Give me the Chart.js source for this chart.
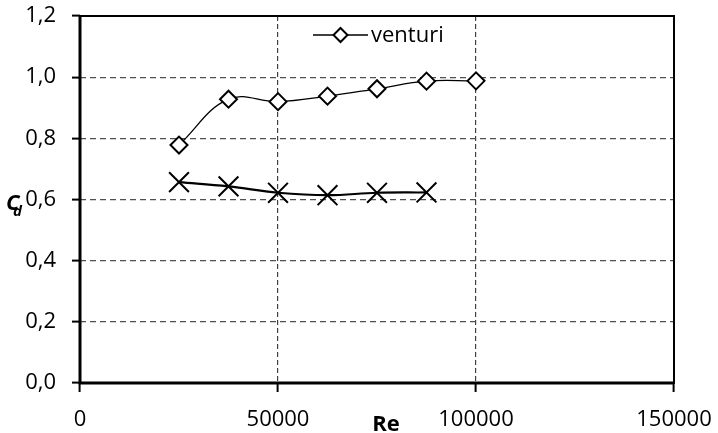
<!DOCTYPE html>
<html>
<head>
<meta charset="utf-8">
<style>
  html, body { margin: 0; padding: 0; background: #fff; }
  #wrap { width: 718px; height: 433px; }
</style>
</head>
<body>
<div id="wrap"><canvas id="cd"></canvas></div>
<script src="https://cdn.jsdelivr.net/npm/chart.js"></script>
<script>
// Re values and discharge coefficients
const reVenturi = [25000, 37500, 50000, 62500, 75000, 87500, 100000];
const cdVenturi = [0.778, 0.928, 0.92, 0.938, 0.962, 0.987, 0.988];
const reOrifice = [25000, 37500, 50000, 62500, 75000, 87500];
const cdOrifice = [0.657, 0.643, 0.622, 0.614, 0.622, 0.623];
const xTicks = [0, 50000, 100000, 150000];
const yTicks = [0, 0.2, 0.4, 0.6, 0.8, 1.0, 1.2];

const FONT = "'Open Sans', sans-serif";
const pts = (xs, ys) => xs.map((x, i) => ({ x: x, y: ys[i] }));

// frame, legend and the C_d / Re titles
const extras = {
  id: 'extras',
  afterDraw(chart) {
    const { ctx, chartArea: a } = chart;
    ctx.save();
    ctx.strokeStyle = '#000';
    ctx.lineWidth = 2;
    ctx.strokeRect(a.left, a.top, a.right - a.left, a.bottom - a.top);
    ctx.lineWidth = 3;
    ctx.beginPath();
    ctx.moveTo(a.left, a.top); ctx.lineTo(a.left, a.bottom); ctx.lineTo(a.right, a.bottom);
    ctx.stroke();

    // legend entry
    const ly = 35;
    ctx.fillStyle = '#fff';
    ctx.fillRect(310, 20, 140, 28);
    ctx.lineWidth = 1.3;
    ctx.beginPath(); ctx.moveTo(313, ly); ctx.lineTo(368, ly); ctx.stroke();
    ctx.lineWidth = 2;
    ctx.beginPath();
    ctx.moveTo(340.5, ly - 7); ctx.lineTo(347.5, ly); ctx.lineTo(340.5, ly + 7); ctx.lineTo(333.5, ly);
    ctx.closePath();
    ctx.fill(); ctx.stroke();
    ctx.fillStyle = '#000';
    ctx.font = '22px ' + FONT;
    ctx.textBaseline = 'middle';
    ctx.textAlign = 'left';
    ctx.fillText('venturi', 371, ly + 1);

    // y title
    ctx.font = 'italic bold 22px ' + FONT;
    ctx.textBaseline = 'alphabetic';
    ctx.fillText('C', 6, 210);
    ctx.font = 'italic bold 15px ' + FONT;
    ctx.fillText('d', 13, 216);

    // x title
    ctx.font = 'bold 22px ' + FONT;
    ctx.textAlign = 'center';
    ctx.fillText('Re', 386, 431);
    ctx.restore();
  }
};

new Chart(document.getElementById('cd'), {
  type: 'scatter',
  data: {
    datasets: [
      {
        label: 'venturi',
        data: pts(reVenturi, cdVenturi),
        showLine: true,
        tension: 0.4,
        borderColor: '#000',
        borderWidth: 1.3,
        pointStyle: 'rectRot',
        pointRadius: 8.5,
        pointBackgroundColor: '#fff',
        pointBorderColor: '#000',
        pointBorderWidth: 2
      },
      {
        label: 'orifice',
        data: pts(reOrifice, cdOrifice),
        showLine: true,
        tension: 0.4,
        borderColor: '#000',
        borderWidth: 2.2,
        pointStyle: 'crossRot',
        pointRadius: 14,
        pointBorderColor: '#000',
        pointBorderWidth: 2
      }
    ]
  },
  options: {
    responsive: true,
    maintainAspectRatio: false,
    animation: false,
    layout: { padding: { top: 16, right: 44, left: 0, bottom: 0 } },
    plugins: { legend: { display: false }, tooltip: { enabled: false } },
    scales: {
      x: {
        type: 'linear',
        min: 0, max: 150000,
        afterBuildTicks: s => { s.ticks = xTicks.map(v => ({ value: v })); },
        afterFit: s => { s.height = 50; s.paddingLeft = 0; s.paddingRight = 0; },
        grid: {
          color: c => (c.tick && (c.tick.value === 0 || c.tick.value === 150000)) ? 'rgba(0,0,0,0)' : '#404040',
          lineWidth: 1.2,
          tickColor: '#000', tickWidth: 2, tickLength: 9
        },
        border: { display: false, dash: [5, 3] },
        ticks: {
          color: '#000', padding: 15, maxRotation: 0, autoSkip: false,
          font: { family: FONT, size: 22 },
          callback: v => String(v)
        }
      },
      y: {
        type: 'linear',
        min: 0, max: 1.2,
        afterBuildTicks: s => { s.ticks = yTicks.map(v => ({ value: v })); },
        afterFit: s => { s.width = 80; s.paddingTop = 0; s.paddingBottom = 0; },
        grid: {
          color: c => (c.tick && (c.tick.value === 0 || c.tick.value === 1.2)) ? 'rgba(0,0,0,0)' : '#505050',
          lineWidth: 1.2,
          tickColor: '#000', tickWidth: 2, tickLength: 8
        },
        border: { display: false, dash: [6, 4] },
        ticks: {
          color: '#000', padding: 16, autoSkip: false,
          font: { family: FONT, size: 22 },
          callback: v => v.toFixed(1).replace('.', ',')
        }
      }
    }
  },
  plugins: [extras]
});
</script>
</body>
</html>
